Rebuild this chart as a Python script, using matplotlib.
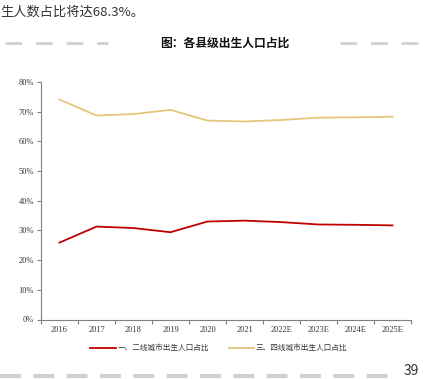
import matplotlib
matplotlib.use("Agg")
import matplotlib.pyplot as plt
import matplotlib.ticker as mpl_tick
from matplotlib.lines import Line2D

plt.rcParams['font.family'] = ['Noto Sans CJK SC', 'DejaVu Sans']

years = ["2016", "2017", "2018", "2019", "2020", "2021", "2022E", "2023E", "2024E", "2025E"]
tier12 = [25.9, 31.3, 30.8, 29.4, 33.0, 33.3, 32.8, 32.0, 31.9, 31.7]   # 一、二线城市
tier34 = [74.1, 68.7, 69.2, 70.6, 67.0, 66.7, 67.2, 68.0, 68.1, 68.3]   # 三、四线城市
yTicks = [0, 10, 20, 30, 40, 50, 60, 70, 80]

W, H = 423, 379
fig = plt.figure(figsize=(W / 100, H / 100), dpi=100)
ax = fig.add_axes([41 / W, (H - 319.5) / H, 370 / W, 237.5 / H])

x = list(range(len(years)))
ax.plot(x, tier12, color='#C00000', lw=1.3, label='一、二线城市出生人口占比')
ax.plot(x, tier34, color='#E3C67B', lw=1.3, label='三、四线城市出生人口占比')

ax.set_xlim(-0.5, len(years) - 0.5)
ax.set_ylim(0, 80)
ax.set_yticks(yTicks)
ax.yaxis.set_major_formatter(mpl_tick.PercentFormatter(100, 0))
ax.set_xticks(x)
ax.set_xticklabels(years)
ax.set_xticks([i - 0.5 for i in range(len(years) + 1)], minor=True)
ax.tick_params(axis='x', which='major', length=0, pad=5)
ax.tick_params(axis='x', which='minor', length=3, color='#808080', width=0.8)
ax.tick_params(axis='y', length=3, color='#808080', width=0.8, pad=2)
for lab in ax.get_xticklabels() + ax.get_yticklabels():
    lab.set_family('Liberation Serif')
    lab.set_fontsize(6)
    lab.set_color('#333333')

for s in ['top', 'right']:
    ax.spines[s].set_visible(False)
for s in ['left', 'bottom']:
    ax.spines[s].set_color('#808080')
    ax.spines[s].set_linewidth(0.8)

ax.legend(loc='upper center', bbox_to_anchor=(0.48, -0.075), ncol=2, frameon=False,
          fontsize=5.5, handlelength=3.3, handletextpad=0.2, columnspacing=2.6,
          labelcolor='#333333')

# page decorations
fig.text(0, 1 - 12 / H, '生人数占比将达68.3%。', fontsize=9.5, color='#333333', va='center', ha='left')
fig.text(225 / W, 1 - 43 / H, '图：各县级出生人口占比', fontsize=8.5, fontweight='bold',
         color='#111111', va='center', ha='center')
fig.add_artist(Line2D([5 / W, 108 / W], [1 - 43 / H] * 2, color='#d0d0d0', lw=2,
                      dashes=(6, 5)))
fig.add_artist(Line2D([340 / W, 1], [1 - 43 / H] * 2, color='#d0d0d0', lw=2,
                      dashes=(6, 5)))
fig.add_artist(Line2D([0, 400 / W], [1 - 376 / H] * 2, color='#d0d0d0', lw=3,
                      dashes=(5, 3)))
fig.text(404 / W, 1 - 378 / H, '39', fontsize=10, color='#333333', va='bottom', ha='left')

fig.savefig('out.png', dpi=100)
